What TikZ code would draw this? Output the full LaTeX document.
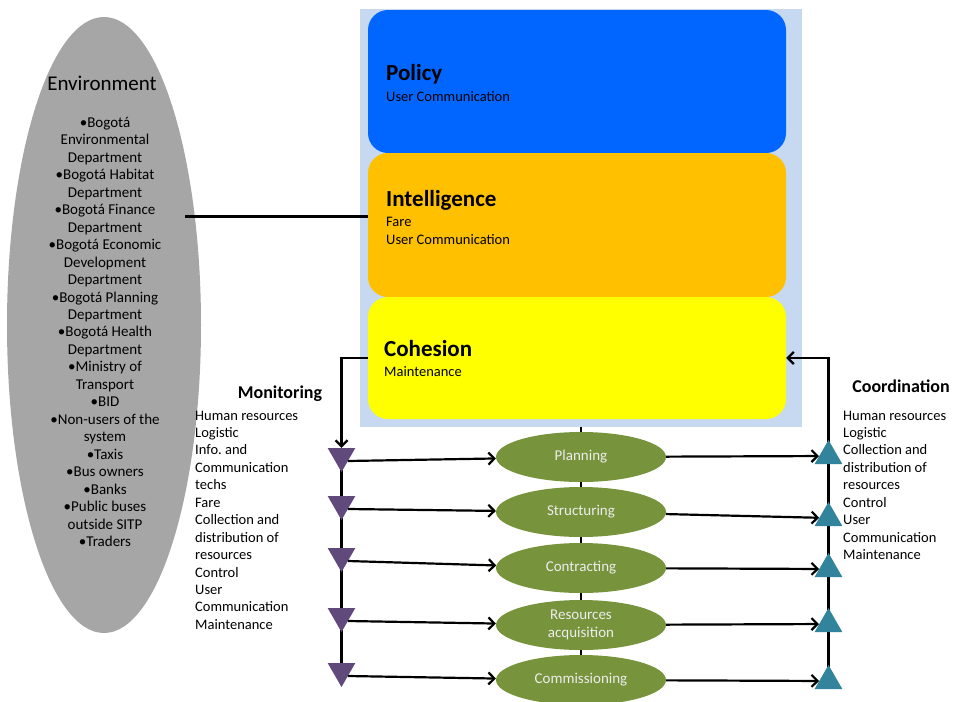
\documentclass[tikz,border=0pt]{standalone}
\usepackage{fontspec}
\setmainfont{Carlito}
\usetikzlibrary{shapes.geometric,arrows.meta}
\definecolor{policyblue}{HTML}{0066FF}
\definecolor{intelorange}{HTML}{FFC000}
\definecolor{cohyellow}{HTML}{FFFF00}
\definecolor{panelblue}{HTML}{C6D9F1}
\definecolor{envgray}{HTML}{A6A6A6}
\definecolor{stepgreen}{HTML}{77933C}
\definecolor{monpurple}{HTML}{604A7B}
\definecolor{coordteal}{HTML}{31849B}
\pgfdeclarelayer{back}
\pgfsetlayers{back,main}
\begin{document}
\frenchspacing
\begin{tikzpicture}[x=1pt,y=-1pt,
  layerbox/.style={rounded corners=20pt, minimum width=418pt, inner sep=0pt},
  boxtitle/.style={font=\fontsize{23}{27}\selectfont\bfseries, inner sep=0pt, anchor=base west},
  boxbody/.style={font=\fontsize{14.5}{17}\selectfont, inner sep=0pt, anchor=base west, align=left},
  listtext/.style={font=\fontsize{14.5}{17.45}\selectfont, inner sep=0pt},
  sidetitle/.style={font=\fontsize{18}{21}\selectfont\bfseries, inner sep=0pt, anchor=base},
  stepnode/.style={ellipse, fill=stepgreen, minimum width=170pt, minimum height=50pt,
    inner sep=0pt, text=white!93!black, align=center, font=\fontsize{15}{18}\selectfont},
  montri/.style={regular polygon, regular polygon sides=3, shape border rotate=180,
    fill=monpurple, minimum size=32pt, inner sep=0pt},
  cootri/.style={regular polygon, regular polygon sides=3,
    fill=coordteal, minimum size=32pt, inner sep=0pt},
  link/.style={line width=2.2pt, black},
  arrowlink/.style={link, -{Straight Barb[length=6pt,width=12pt]}},
  tick/.style={line width=2pt, black}]
\useasboundingbox (0,0) rectangle (954,702);

% Environment ellipse with its members
\node[ellipse, fill=envgray, minimum width=194pt, minimum height=616pt, inner sep=0pt] (env) at (104,325) {};
\node[font=\fontsize{21}{25}\selectfont, inner sep=0pt, anchor=base] (envtitle) at (102,90) {Environment};
\node[listtext, align=center, anchor=north, font=\fontsize{15}{17.46}\selectfont] (envlist) at (105,117) {%
  •Bogotá\\Environmental\\Department\\•Bogotá Habitat\\Department\\•Bogotá Finance\\Department\\%
  •Bogotá Economic\\Development\\Department\\•Bogotá Planning\\Department\\•Bogotá Health\\Department\\%
  •Ministry of\\Transport\\•BID\\•Non-users of the\\system\\•Taxis\\•Bus owners\\•Banks\\%
  •Public buses\\outside SITP\\•Traders};

% Stacked management layers
\node[layerbox, fill=policyblue, minimum height=143pt] (pol) at (577,81.5) {};
\node[layerbox, fill=intelorange, minimum height=144pt] (intel) at (577,225) {};
\node[layerbox, fill=cohyellow, minimum height=122pt] (coh) at (577,358) {};
\node[boxtitle] (poltitle) at (386,80) {Policy};
\node[boxbody] (polbody) at (386,101.7) {User Communication};
\node[boxtitle] (inteltitle) at (386,206.7) {Intelligence};
\node[boxbody] (intelfare) at (386,226.7) {Fare};
\node[boxbody] (intelbody) at (386,244) {User Communication};
\node[boxtitle] (cohtitle) at (384,356) {Cohesion};
\node[boxbody] (cohbody) at (384,376.7) {Maintenance};

% Operational steps
\node[stepnode] (e1) at (581,457) {Planning};
\node[stepnode] (e2) at (581,512) {Structuring};
\node[stepnode] (e3) at (581,568) {Contracting};
\node[stepnode] (e4) at (581,625) {Resources\\[0pt]acquisition};
\node[stepnode] (e5) at (581,680) {Commissioning};

% Monitoring markers
\node[montri] (m1) at (341.5,456) {};
\node[montri] (m2) at (341.5,504) {};
\node[montri] (m3) at (341.5,556) {};
\node[montri] (m4) at (341.5,616) {};
\node[montri] (m5) at (341.5,671) {};

% Coordination markers
\node[cootri] (c1) at (828.5,456) {};
\node[cootri] (c2) at (828.5,518) {};
\node[cootri] (c3) at (828.5,569) {};
\node[cootri] (c4) at (828.5,624) {};
\node[cootri] (c5) at (828.5,681) {};

% Side captions
\node[sidetitle] (montitle) at (280,398) {Monitoring};
\node[listtext, align=left, anchor=north west] (monlist) at (195,410.5) {%
  Human resources\\Logistic\\Info.\ and\\Communication\\techs\\Fare\\Collection and\\%
  distribution of\\resources\\Control\\User\\Communication\\Maintenance};
\node[sidetitle] (cootitle) at (901,392) {Coordination};
\node[listtext, align=left, anchor=north west] (coolist) at (843,410.5) {%
  Human resources\\Logistic\\Collection and\\distribution of\\resources\\Control\\User\\%
  Communication\\Maintenance};

% Panel behind the layers and the loop lines
\begin{pgfonlayer}{back}
  \node[fill=panelblue, minimum width=442pt, minimum height=418pt, inner sep=0pt] (panel) at (581,218) {};
  \draw[link] (m1.center) -- (m5.center);
  \draw[arrowlink] (coh.west) -| (m1);
  \draw[arrowlink] (c5.center) -- (c1.center) |- (coh.east);
\end{pgfonlayer}

% Environment to intelligence
\coordinate (envlink) at (185,216);
\draw[line width=3pt] (envlink) -- (envlink -| intel.west);

% Sequence ticks between steps
\draw[tick] (panel.south -| e1) -- (e1);
\draw[tick] (e1) -- (e2);
\draw[tick] (e2) -- (e3);
\draw[tick] (e3) -- (e4);
\draw[tick] (e4) -- (e5);

% Monitoring feeds the steps, steps feed coordination
\foreach \i in {1,...,5} {
  \draw[arrowlink] ([xshift=6.3pt,yshift=-5pt]m\i.center) -- (e\i);
  \draw[arrowlink] (e\i) -- (c\i);
}
\end{tikzpicture}
\end{document}
